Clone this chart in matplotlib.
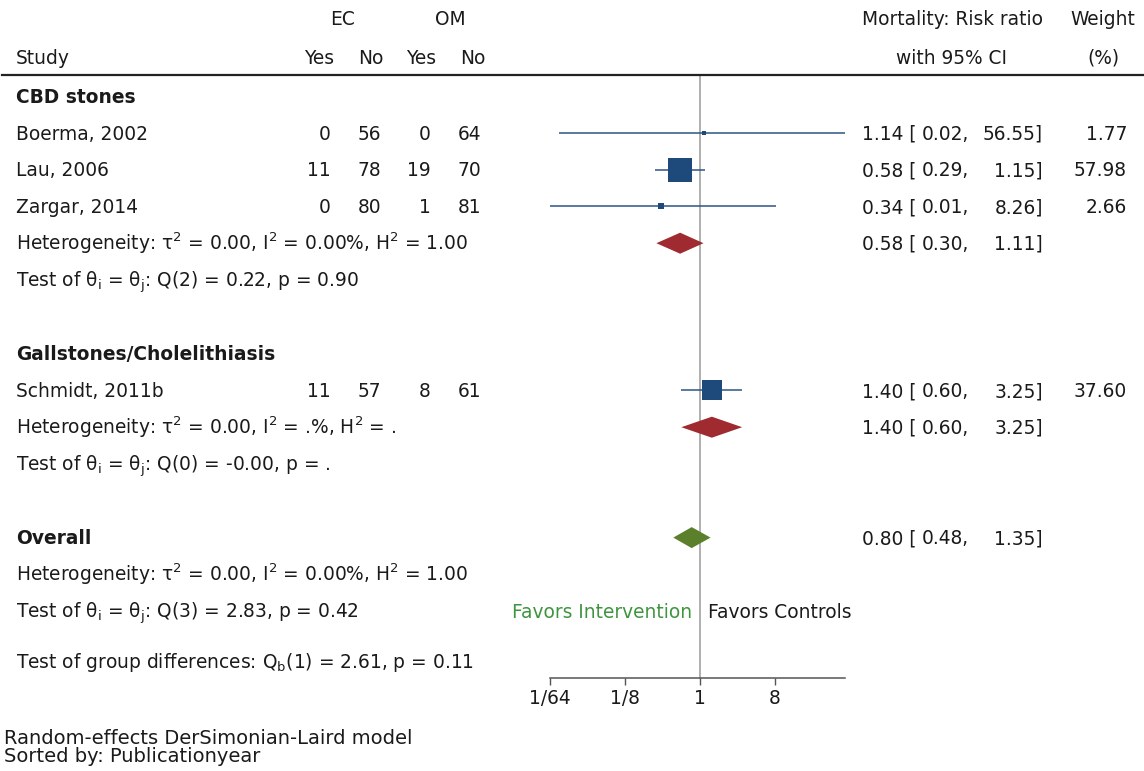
import numpy as np
import matplotlib
matplotlib.use("Agg")
import matplotlib.pyplot as plt
import matplotlib.transforms as mtransforms
from matplotlib.lines import Line2D

plt.rcParams["font.family"] = ["DejaVu Sans"]
plt.rcParams["mathtext.fontset"] = "dejavusans"

# data
studies = ["Boerma, 2002", "Lau, 2006", "Zargar, 2014", "Schmidt, 2011b"]
study_group = [0, 0, 0, 1]
ec_yes = [0, 11, 0, 11]
ec_no = [56, 78, 80, 57]
om_yes = [0, 19, 1, 8]
om_no = [64, 70, 81, 61]
rr = [1.14, 0.58, 0.34, 1.40]
rr_lo = [0.02, 0.29, 0.01, 0.60]
rr_hi = [56.55, 1.15, 8.26, 3.25]
weight = [1.77, 57.98, 2.66, 37.60]

groups = ["CBD stones", "Gallstones/Cholelithiasis"]
grp_rr = [0.58, 1.40]
grp_lo = [0.30, 0.60]
grp_hi = [1.11, 3.25]
grp_het = [r"Heterogeneity: $\mathregular{\tau^2}$ = 0.00, $\mathregular{I^2}$ = 0.00%, $\mathregular{H^2}$ = 1.00",
           r"Heterogeneity: $\mathregular{\tau^2}$ = 0.00, $\mathregular{I^2}$ = .%, $\mathregular{H^2}$ = ."]
grp_test = [r"Test of $\mathregular{\theta_i}$ = $\mathregular{\theta_j}$: Q(2) = 0.22, p = 0.90",
            r"Test of $\mathregular{\theta_i}$ = $\mathregular{\theta_j}$: Q(0) = -0.00, p = ."]

overall_rr, overall_lo, overall_hi = 0.80, 0.48, 1.35
overall_het = r"Heterogeneity: $\mathregular{\tau^2}$ = 0.00, $\mathregular{I^2}$ = 0.00%, $\mathregular{H^2}$ = 1.00"
overall_test = r"Test of $\mathregular{\theta_i}$ = $\mathregular{\theta_j}$: Q(3) = 2.83, p = 0.42"
group_diff = r"Test of group differences: $\mathregular{Q_b}$(1) = 2.61, p = 0.11"

xticks = [1 / 64, 1 / 8, 1, 8]
xticklabels = ["1/64", "1/8", "1", "8"]

# layout (pixels)
W, H = 1144, 771
FS = 13.45
TXT = "#1a1a1a"
sq_col = "#1d4a7a"
ci_col = "#2b5585"
red = "#9f2a30"
green = "#5b7f2a"


def row_y(r):
    return 96 + 36.8 * r


fig = plt.figure(figsize=(W / 100, H / 100), dpi=100)
ax = fig.add_axes([550 / W, 0, 295 / W, 1])
ax.set_xscale("log", base=2)
ax.set_xlim(xticks[0], max(rr_hi))
ax.set_ylim(H, 0)
for s in ["left", "top", "right"]:
    ax.spines[s].set_visible(False)
ax.spines["bottom"].set_position(("data", 678))
ax.spines["bottom"].set_color("#555555")
ax.spines["bottom"].set_linewidth(1.1)
ax.set_yticks([])
ax.set_xticks(xticks)
ax.set_xticklabels(xticklabels, fontsize=FS, color=TXT)
ax.minorticks_off()
ax.tick_params(axis="x", direction="out", length=5, width=1.0, color="#555555", pad=3)
ax.patch.set_alpha(0)

tr = mtransforms.blended_transform_factory(fig.transFigure, ax.transData)


def txt(x, y, s, ha="left", color=TXT, **kw):
    ax.text(x / W, y + 6.7, s, transform=tr, ha=ha, va="baseline", fontsize=FS, color=color, **kw)


def ci_text(y, est, lo, hi):
    txt(862, y, f"{est:.2f} [")
    txt(969, y, f"{lo:.2f},", ha="right")
    txt(1043, y, f"{hi:.2f}]", ha="right")


def diamond(y, est, lo, hi, color):
    ax.fill([lo, est, hi, est], [y, y - 10.5, y, y + 10.5], color=color, lw=0, zorder=3)


# header
txt(343, 18, "EC", ha="center")
txt(450, 18, "OM", ha="center")
txt(16, 57, "Study")
for xr, lab in zip([334, 384, 436, 485], ["Yes", "No", "Yes", "No"]):
    txt(xr, 57, lab, ha="right")
txt(952, 18, "Mortality: Risk ratio", ha="center")
txt(952, 57, "with 95% CI", ha="center")
txt(1103, 18, "Weight", ha="center")
txt(1103, 57, "(%)", ha="center")
fig.add_artist(Line2D([2 / W, 1], [1 - 75 / H, 1 - 75 / H], color="#222222", lw=1.6))

# reference line at 1
ax.plot([1, 1], [75, 678], color="#9a9a9a", lw=1.1, zorder=1)

side_max = 24
r = 0
for g, gname in enumerate(groups):
    txt(16, row_y(r), gname, fontweight="bold")
    r += 1
    for i in range(len(studies)):
        if study_group[i] != g:
            continue
        y = row_y(r)
        txt(16, y, studies[i])
        for xr, v in zip([331, 381, 431, 481], [ec_yes[i], ec_no[i], om_yes[i], om_no[i]]):
            txt(xr, y, str(v), ha="right")
        ax.plot([rr_lo[i], rr_hi[i]], [y, y], color=ci_col, lw=1.1, zorder=2, solid_capstyle="butt")
        side = max(side_max * np.sqrt(weight[i] / max(weight)), 5)
        ax.scatter([rr[i]], [y], marker="s", s=(side * 0.72) ** 2, color=sq_col, lw=0, zorder=4)
        ci_text(y, rr[i], rr_lo[i], rr_hi[i])
        txt(1127, y, f"{weight[i]:.2f}", ha="right")
        r += 1
    y = row_y(r)
    txt(16, y, grp_het[g])
    diamond(y, grp_rr[g], grp_lo[g], grp_hi[g], red)
    ci_text(y, grp_rr[g], grp_lo[g], grp_hi[g])
    r += 1
    txt(16, row_y(r), grp_test[g])
    r += 2

# overall
y = row_y(r)
txt(16, y, "Overall", fontweight="bold")
diamond(y, overall_rr, overall_lo, overall_hi, green)
ci_text(y, overall_rr, overall_lo, overall_hi)
r += 1
txt(16, row_y(r), overall_het)
r += 1
y = row_y(r)
txt(16, y, overall_test)
txt(692, y, "Favors Intervention", ha="right", color="#3f9440")
txt(708, y, "Favors Controls")
txt(16, row_y(r + 1.35), group_diff)

# notes
fig.text(4 / W, 1 - 744 / H, "Random-effects DerSimonian-Laird model", fontsize=14, color=TXT)
fig.text(4 / W, 1 - 762 / H, "Sorted by: Publicationyear", fontsize=14, color=TXT)

fig.savefig("out.png", dpi=100, facecolor="white")
